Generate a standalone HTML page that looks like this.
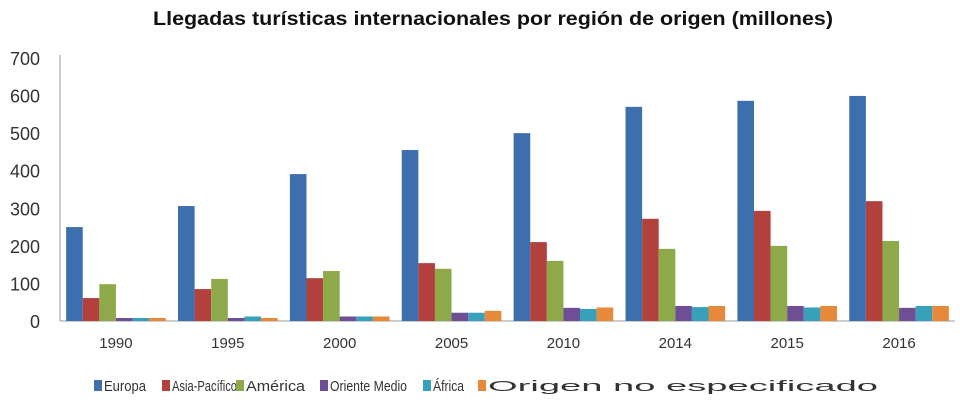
<!DOCTYPE html>
<html><head><meta charset="utf-8"><style>
body{margin:0;background:#fff;}
svg text{font-family:"Liberation Sans",sans-serif;}
</style></head><body>
<svg id="chart" width="960" height="400" xmlns="http://www.w3.org/2000/svg">
<text x="493" y="25" text-anchor="middle" font-size="19" font-weight="bold" fill="#111" textLength="680" lengthAdjust="spacingAndGlyphs">Llegadas turísticas internacionales por región de origen (millones)</text>
<g id="grid"></g><g id="bars"></g><g id="legend"></g>
</svg>
<script>
const categories=["1990","1995","2000","2005","2010","2014","2015","2016"];
const seriesNames=["Europa","Asia-Pacífico","América","Oriente Medio","África","Origen no especificado"];
const europa=[250,306,391,455,500,570,586,599];
const asiaPacifico=[61,85,114,154,210,272,293,319];
const america=[98,112,133,139,160,192,200,213];
const orienteMedio=[8,8,12,22,35,40,40,35];
const africa=[8,12,12,22,32,37,36,40];
const origenNoEsp=[8,8,12,27,36,40,40,40];
const yTicks=[0,100,200,300,400,500,600,700];
const colors=["#3d6eae","#b2403d","#8ea94a","#6e4f96","#37a0ba","#e6893a"];
const series=[europa,asiaPacifico,america,orienteMedio,africa,origenNoEsp];
const NS="http://www.w3.org/2000/svg";
const x0=60,x1=955,y0=321,yTop=58,vMax=700;
const yS=v=>y0-(v/vMax)*(y0-yTop);
const catW=(x1-x0)/categories.length;
const barW=16.6,pad=(catW-barW*6)/2;
const grid=document.getElementById('grid'),bars=document.getElementById('bars'),legend=document.getElementById('legend');
function mk(tag,attrs,parent){const e=document.createElementNS(NS,tag);for(const k in attrs)e.setAttribute(k,attrs[k]);parent.appendChild(e);return e;}
yTicks.forEach(t=>{
  const tx=mk('text',{x:40,y:yS(t)+7,'text-anchor':'end','font-size':18,fill:'#333'},grid);
  
  
  tx.textContent=t;
});
const ya=mk('line',{x1:x0,y1:yTop-3,x2:x0,y2:y0,stroke:'#999','stroke-width':1},grid);


const xa=mk('line',{x1:x0,y1:y0,x2:x1,y2:y0,stroke:'#999','stroke-width':1},grid);


categories.forEach((c,i)=>{
  const tx=mk('text',{x:x0+catW*(i+0.5),y:y0+27,'text-anchor':'middle','font-size':15,fill:'#333'},grid);
  
  
  tx.textContent=c;
  series.forEach((s,j)=>{
    const v=s[i];
    const r=mk('rect',{x:x0+catW*i+pad+barW*j,y:yS(v),width:barW,height:y0-yS(v),fill:colors[j]},bars);
    
    
  });
});
const legX=[94,162,236,320,423,478];
const legW=[42,65,59,77,31,390];
seriesNames.forEach((n,j)=>{
  const g=mk('g',{},legend);
  
  
  mk('rect',{x:legX[j],y:380,width:8,height:11,fill:colors[j]},g);
  const t=mk('text',{x:legX[j]+10,y:391,'font-size':15,fill:'#333',textLength:legW[j],lengthAdjust:'spacingAndGlyphs'},g);
  t.textContent=n;
});
</script>
</body></html>
